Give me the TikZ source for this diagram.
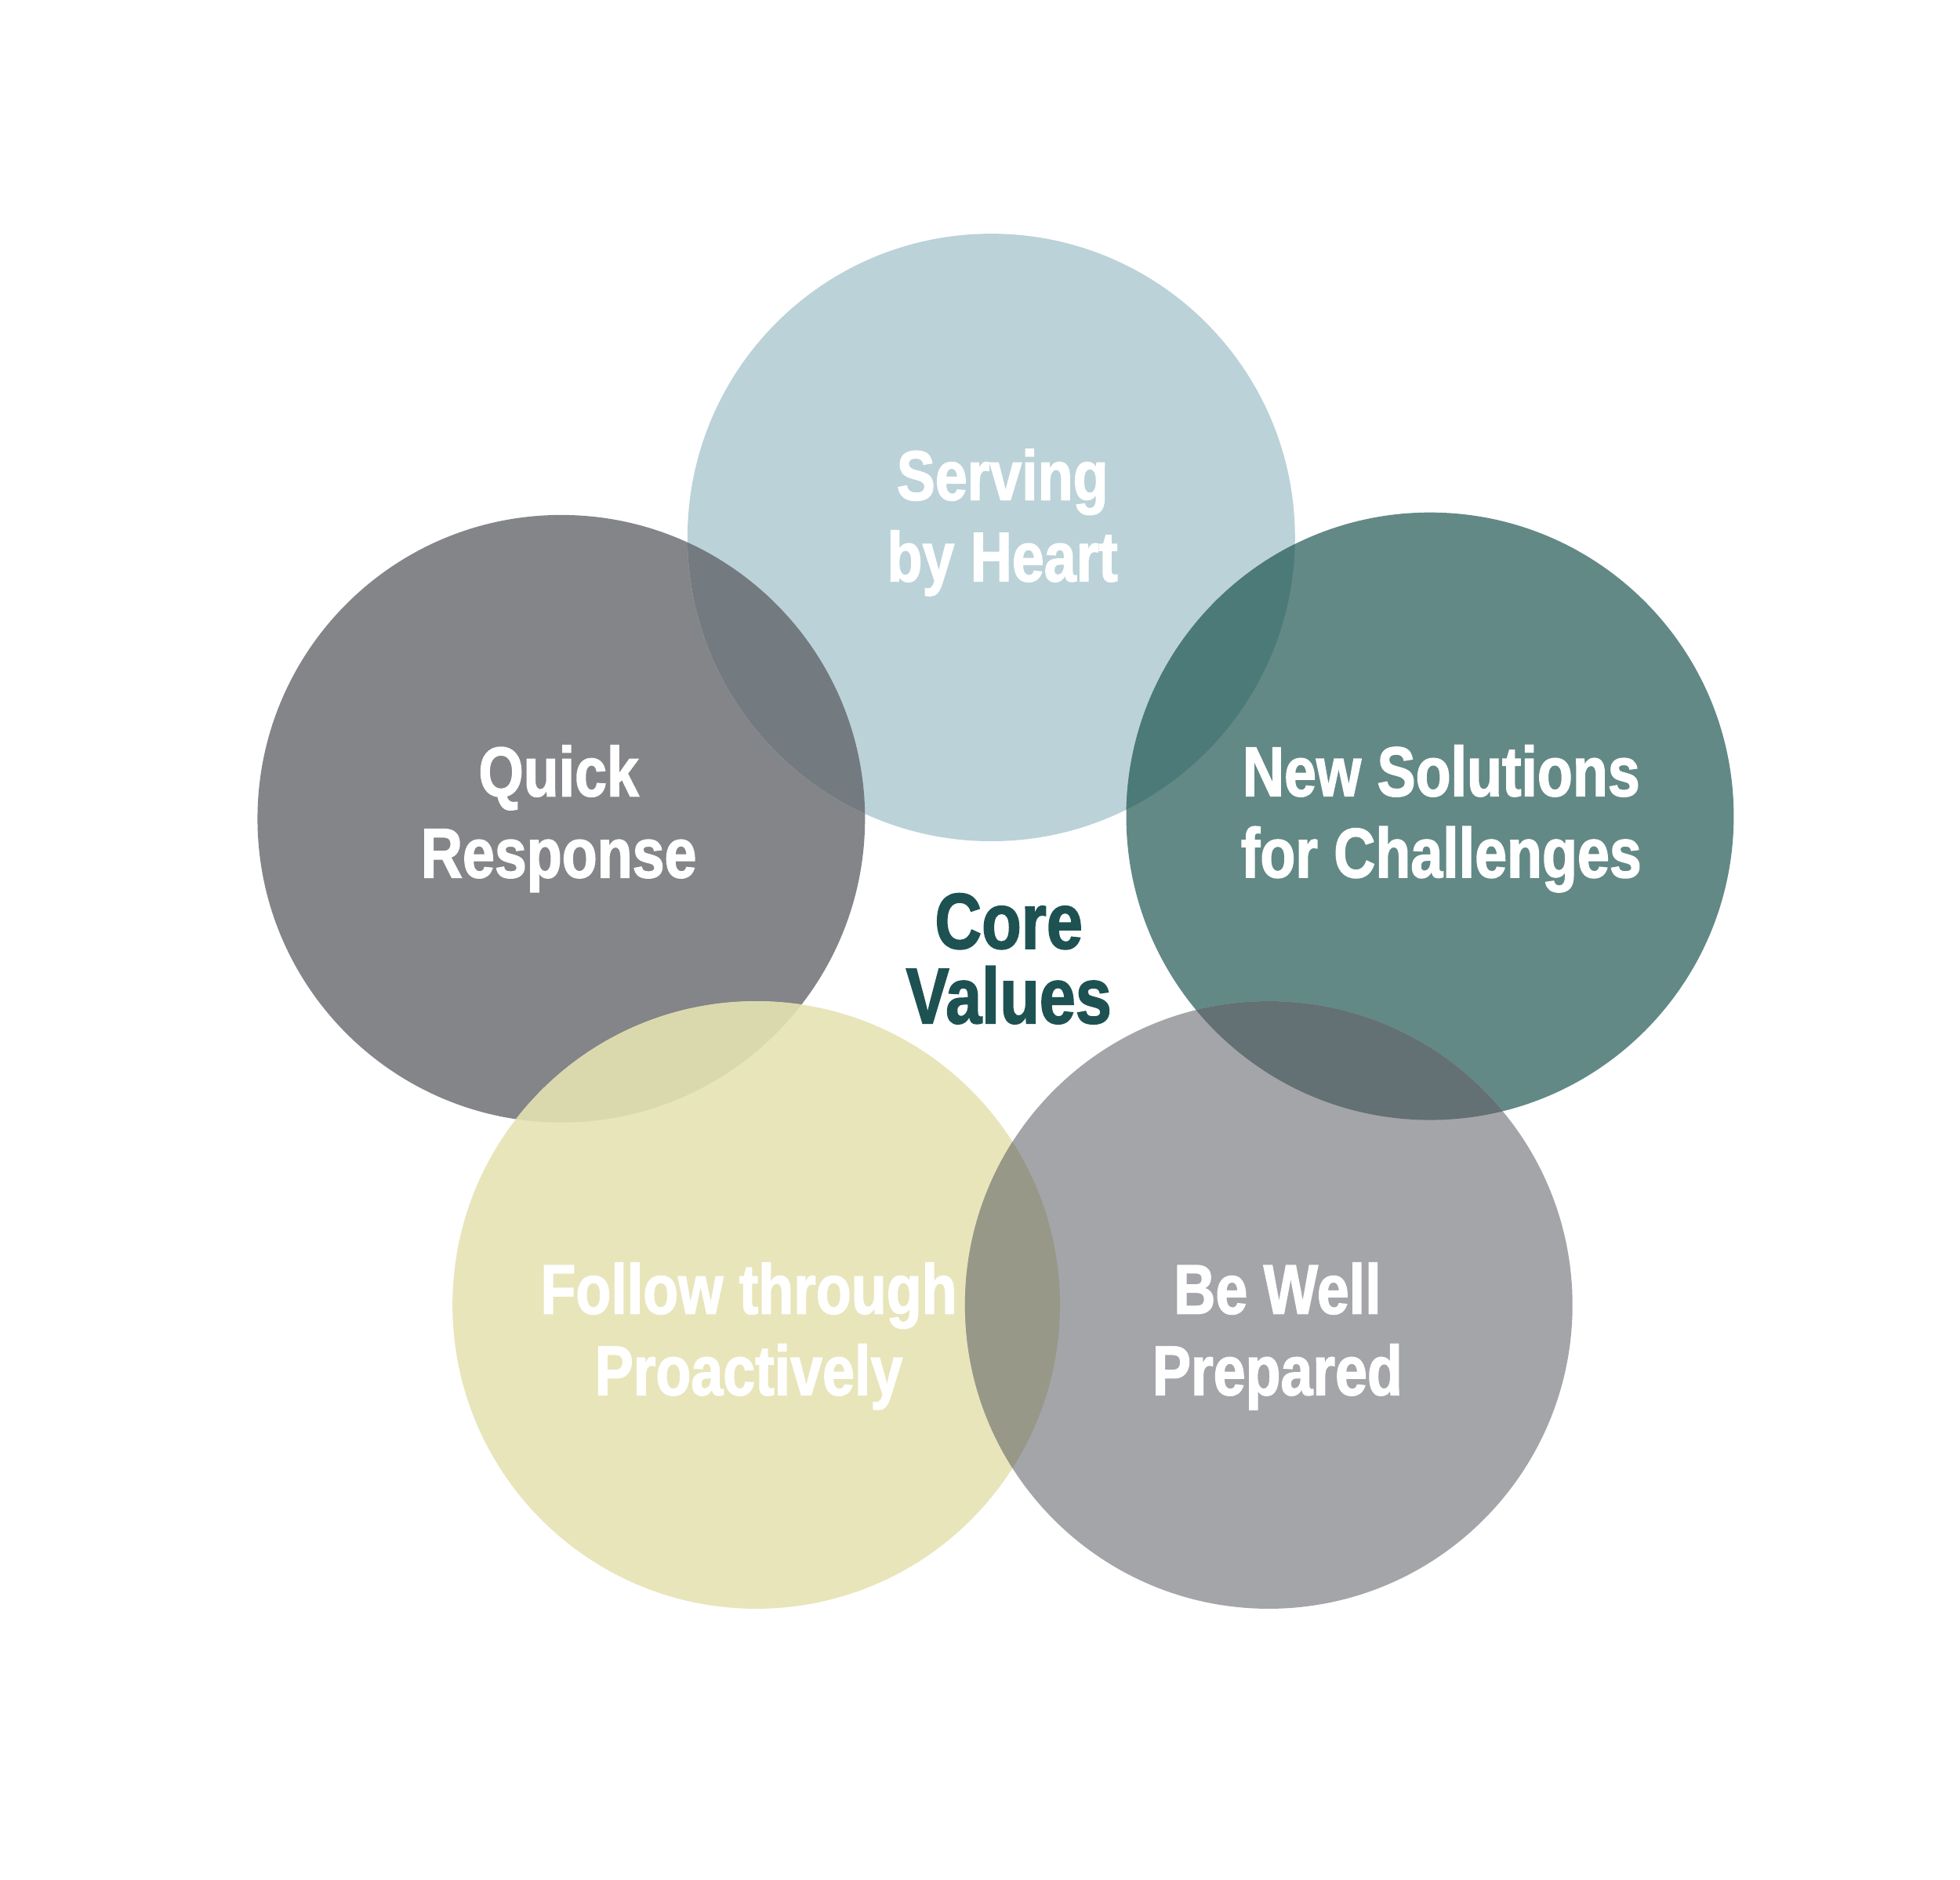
\documentclass[tikz,border=0pt]{standalone}
\usepackage{fontspec}
\newfontfamily\lblfont[FakeStretch=0.82,BoldFeatures={FakeBold=1.6}]{Liberation Sans}
\definecolor{topblue}{HTML}{BBD2D8}
\definecolor{leftgrey}{HTML}{848589}
\definecolor{rightteal}{HTML}{628986}
\definecolor{lowyellow}{HTML}{E8E5BB}
\definecolor{lowgrey}{HTML}{A4A5A8}
\definecolor{tlmix}{HTML}{737A80}
\definecolor{trmix}{HTML}{4C7A79}
\definecolor{lymix}{HTML}{DAD9AE}
\definecolor{ygmix}{HTML}{979888}
\definecolor{rgmix}{HTML}{637074}
\definecolor{coreteal}{HTML}{1E5252}
\tikzstyle{value}=[align=center,text=white,font=\lblfont\bfseries\fontsize{16}{18.5}\selectfont]
\tikzstyle{core}=[align=center,text=coreteal,font=\lblfont\bfseries\fontsize{18}{17}\selectfont]

\begin{document}
\begin{tikzpicture}[x=0.01cm,y=-0.01cm]
		\useasboundingbox[fill=white] (0,0) rectangle (1568,1504);
		\coordinate (T) at (793,430);
		\coordinate (L) at (449,655);
		\coordinate (R) at (1144,653);
		\coordinate (BL) at (605,1044);
		\coordinate (BR) at (1015,1044);
		\fill[leftgrey] (L) circle (243);
		\fill[topblue] (T) circle (243);
		\fill[rightteal] (R) circle (243);
		\fill[lowyellow] (BL) circle (243);
		\fill[lowgrey] (BR) circle (243);
		\begin{scope} \clip (T) circle (243); \fill[tlmix] (L) circle (243); \end{scope}
		\begin{scope} \clip (T) circle (243); \fill[trmix] (R) circle (243); \end{scope}
		\begin{scope} \clip (L) circle (243); \fill[lymix] (BL) circle (243); \end{scope}
		\begin{scope} \clip (BL) circle (243); \fill[ygmix] (BR) circle (243); \end{scope}
		\begin{scope} \clip (R) circle (243); \fill[rgmix] (BR) circle (243); \end{scope}
		\node[value] (serving) at (802,418) {Serving\\by Heart};
		\node[value] (quick) at (447,655) {Quick\\Response};
		\node[value] (solutions) at (1153,655) {New Solutions\\for Challenges};
		\node[value] (follow) at (599,1069) {Follow through\\Proactively};
		\node[value] (prepared) at (1022,1069) {Be Well\\Prepared};
		\node[core] (corevalues) at (807,767) {Core\\Values};
\end{tikzpicture}
\end{document}
